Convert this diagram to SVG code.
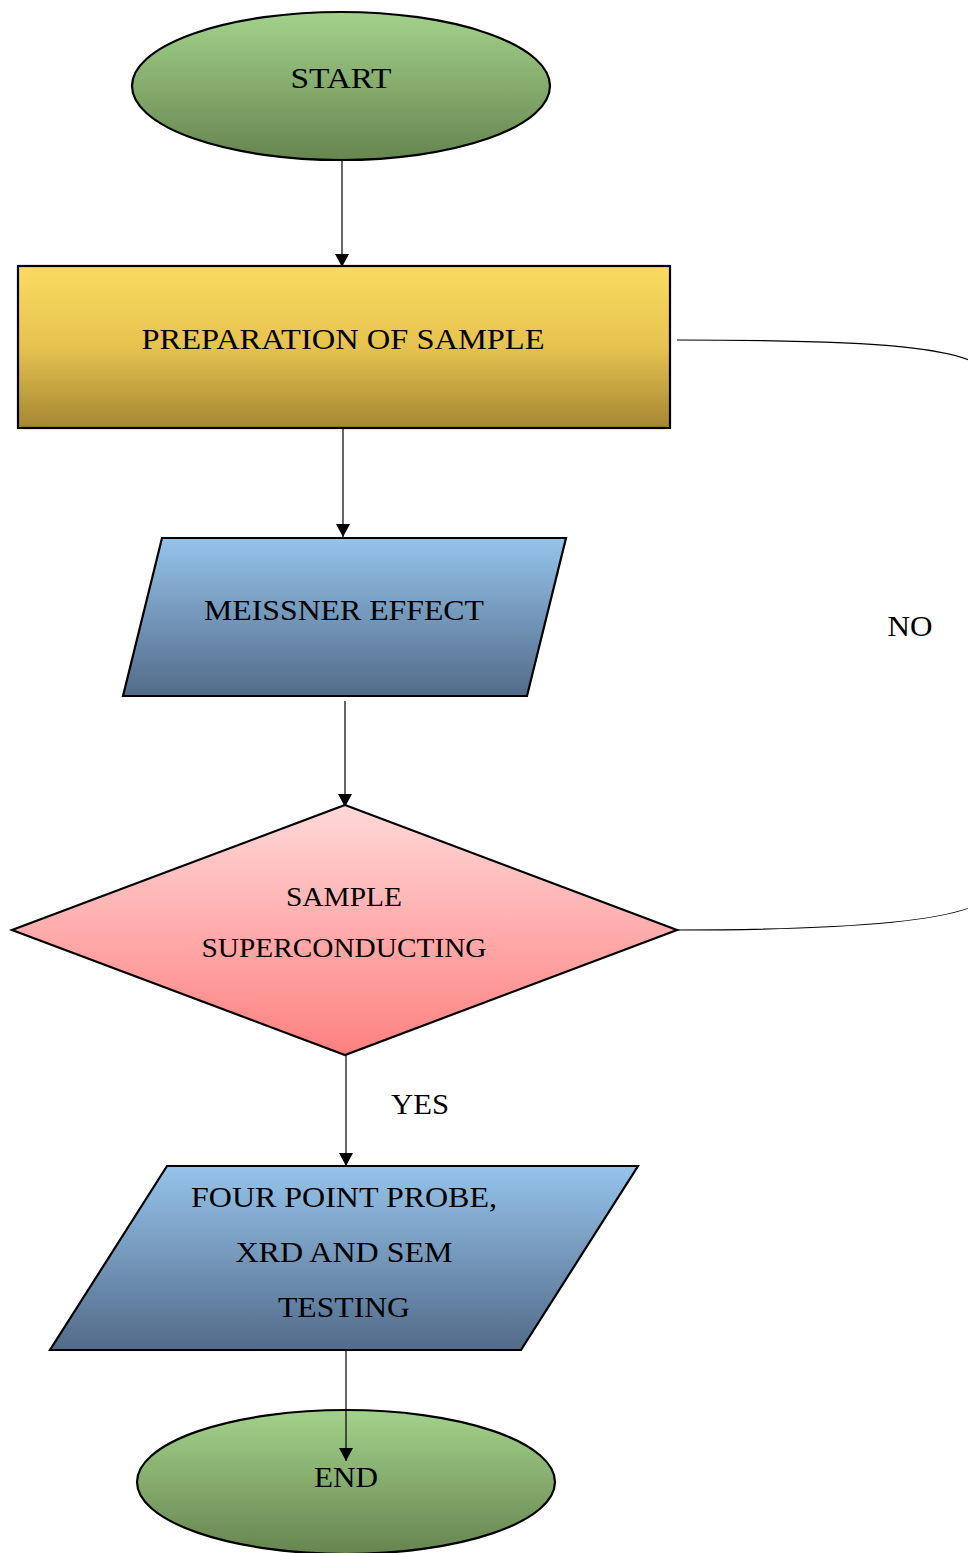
<svg xmlns="http://www.w3.org/2000/svg" width="968" height="1553" viewBox="0 0 968 1553">
<defs>
<linearGradient id="gGreen" x1="0" y1="0" x2="0" y2="1"><stop offset="0" stop-color="#a3d28b"/><stop offset="1" stop-color="#66854f"/></linearGradient>
<linearGradient id="gGold" x1="0" y1="0" x2="0" y2="1"><stop offset="0" stop-color="#fadb5f"/><stop offset="0.5" stop-color="#e6c24f"/><stop offset="1" stop-color="#a58734"/></linearGradient>
<linearGradient id="gBlue" x1="0" y1="0" x2="0" y2="1"><stop offset="0" stop-color="#95c3eb"/><stop offset="1" stop-color="#536b89"/></linearGradient>
<linearGradient id="gPink" x1="0" y1="0" x2="0" y2="1"><stop offset="0" stop-color="#ffd8d8"/><stop offset="1" stop-color="#ff8080"/></linearGradient>
<marker id="arr" viewBox="0 0 13 14" refX="13" refY="7" markerWidth="13" markerHeight="14" markerUnits="userSpaceOnUse" orient="auto"><path d="M0,0 L13,7 L0,14 z" fill="#000"/></marker>
</defs>
<style>
.shape{stroke:#000;stroke-width:2.2}
.conn{fill:none;stroke:#000;stroke-width:1.2}
text{font-family:"Liberation Serif","Times New Roman",serif;font-size:30px;fill:#000;text-anchor:middle}
.sm{font-size:28px}
</style>
<rect width="968" height="1553" fill="#fff"/>
<g id="connectors">
<line class="conn" x1="342" y1="160" x2="342" y2="267" marker-end="url(#arr)"/>
<line class="conn" x1="343" y1="428" x2="343" y2="537" marker-end="url(#arr)"/>
<line class="conn" x1="345" y1="701" x2="345" y2="807" marker-end="url(#arr)"/>
<line class="conn" x1="346" y1="1055" x2="346" y2="1166" marker-end="url(#arr)"/>
<line class="conn" x1="346" y1="1350" x2="346" y2="1461" marker-end="url(#arr)"/>
<path class="conn" d="M677,340 C860,340 990,345 990,380 L990,890 C990,920 860,930 677,930"/>
<text x="420" y="1114" textLength="58" lengthAdjust="spacingAndGlyphs">YES</text>
<text x="910" y="636" textLength="45" lengthAdjust="spacingAndGlyphs">NO</text>
</g>
<g id="start">
<ellipse class="shape" cx="341" cy="86" rx="209" ry="74" fill="url(#gGreen)"/>
<text x="341" y="88" textLength="101" lengthAdjust="spacingAndGlyphs">START</text>
</g>
<g id="preparation">
<rect class="shape" x="18" y="266" width="652" height="162" fill="url(#gGold)"/>
<text x="343" y="349" textLength="403" lengthAdjust="spacingAndGlyphs">PREPARATION OF SAMPLE</text>
</g>
<g id="meissner">
<polygon class="shape" points="162,538 566,538 527,696 123,696" fill="url(#gBlue)"/>
<text x="344" y="620" textLength="280" lengthAdjust="spacingAndGlyphs">MEISSNER EFFECT</text>
</g>
<g id="decision">
<polygon class="shape" points="345,805 677,930 345,1055 12,930" fill="url(#gPink)"/>
<text class="sm" x="344" y="906" textLength="116" lengthAdjust="spacingAndGlyphs">SAMPLE</text>
<text class="sm" x="344" y="957" textLength="285" lengthAdjust="spacingAndGlyphs">SUPERCONDUCTING</text>
</g>
<g id="testing">
<polygon class="shape" points="167,1166 638,1166 521,1350 50,1350" fill="url(#gBlue)"/>
<text x="344" y="1207" textLength="306" lengthAdjust="spacingAndGlyphs">FOUR POINT PROBE,</text>
<text x="344" y="1262" textLength="217" lengthAdjust="spacingAndGlyphs">XRD AND SEM</text>
<text x="344" y="1317" textLength="132" lengthAdjust="spacingAndGlyphs">TESTING</text>
</g>
<g id="end">
<ellipse class="shape" cx="346" cy="1482" rx="209" ry="72" fill="url(#gGreen)"/>
<text x="346" y="1487" textLength="64" lengthAdjust="spacingAndGlyphs">END</text>
</g>
<line class="conn" x1="346" y1="1410" x2="346" y2="1461" marker-end="url(#arr)"/>
</svg>
